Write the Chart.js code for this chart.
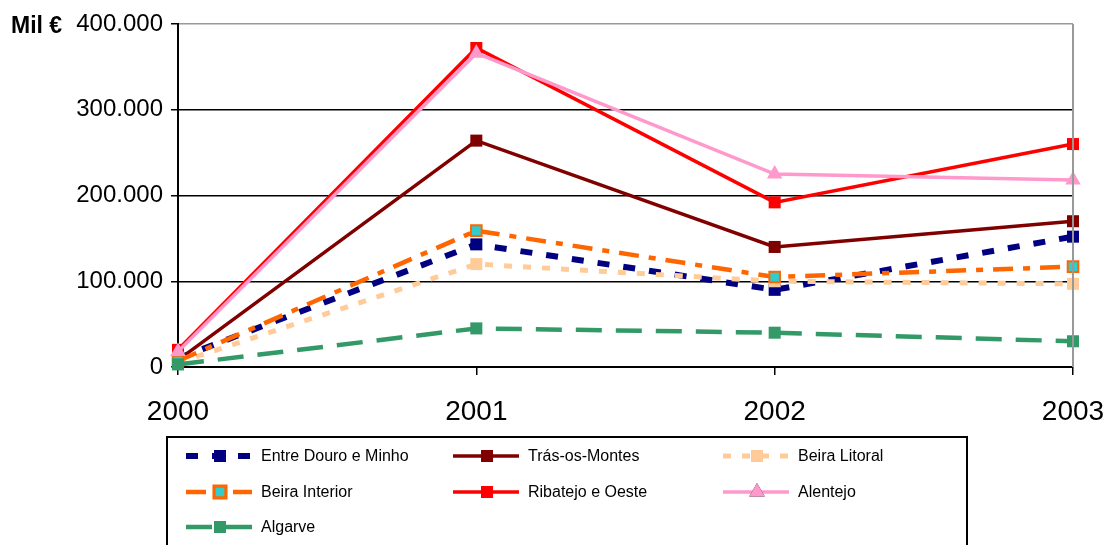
<!DOCTYPE html>
<html>
<head>
<meta charset="utf-8">
<script src="https://cdn.jsdelivr.net/npm/chart.js"></script>
<style>
  body { margin: 0; background: #fff; }
</style>
</head>
<body>
<canvas id="myChart" width="1105" height="545"></canvas>
<script>
// values in thousand euro (Mil €)
let years = ["2000", "2001", "2002", "2003"];
let entreDouroMinho = [10000, 143000, 90000, 152000];
let trasOsMontes = [8000, 264000, 140000, 170000];
let beiraLitoral = [5000, 120000, 100000, 97000];
let beiraInterior = [7000, 159000, 105000, 117000];
let ribatejoOeste = [20000, 372000, 192000, 260000];
let alentejo = [18000, 366000, 225000, 218000];
let algarve = [3000, 45000, 40000, 30000];

let yTicks = [0, 100000, 200000, 300000, 400000];

function makeSet(label, data, color, width, dash, pointStyle, radius, pointFill) {
    return {
        label: label,
        data: data,
        borderColor: color,
        backgroundColor: pointFill || color,
        pointBackgroundColor: pointFill || color,
        pointBorderColor: color,
        pointBorderWidth: pointFill ? 2 : 0,
        borderWidth: width,
        borderDash: dash,
        pointStyle: pointStyle,
        pointRadius: radius,
        tension: 0,
        clip: false
    };
}

let datasets = [
    makeSet("Entre Douro e Minho", entreDouroMinho, "#000080", 6, [12, 14], "rect", 8.5),
    makeSet("Trás-os-Montes", trasOsMontes, "#800000", 3.5, [], "rect", 8.5),
    makeSet("Beira Litoral", beiraLitoral, "#FFCC99", 5, [8, 11], "rect", 8.5),
    makeSet("Beira Interior", beiraInterior, "#FF6600", 4.5, [20, 10, 7, 10], "rect", 7.5, "#33CCCC"),
    makeSet("Ribatejo e Oeste", ribatejoOeste, "#FF0000", 3.5, [], "rect", 8.5),
    makeSet("Alentejo", alentejo, "#FF99CC", 3.5, [], "triangle", 9),
    makeSet("Algarve", algarve, "#339966", 4.5, [26, 14], "rect", 8.5)
];
// later series on top, like the original
datasets.forEach(function (d, i) { d.order = -i; });

function fmt(v) {
    return String(v).replace(/\B(?=(\d{3})+(?!\d))/g, ".");
}

let extras = {
    id: "extras",
    afterDatasetsDraw: function (chart) {
        let ctx = chart.ctx;
        let area = chart.chartArea;
        ctx.save();
        // right border of plot
        ctx.strokeStyle = "#999";
        ctx.lineWidth = 2;
        ctx.beginPath();
        ctx.moveTo(area.right, area.top);
        ctx.lineTo(area.right, area.bottom);
        ctx.stroke();

        // unit label
        ctx.fillStyle = "#000";
        ctx.font = "bold 23px 'Liberation Sans', Arial, sans-serif";
        ctx.textAlign = "left";
        ctx.textBaseline = "alphabetic";
        ctx.fillText("Mil €", 11, 33);

        // legend box
        ctx.strokeStyle = "#000";
        ctx.lineWidth = 2;
        ctx.strokeRect(167, 437, 800, 130);

        let colX = [186, 453, 723];
        let rowY = [456, 492, 527];
        chart.data.datasets.forEach(function (ds, i) {
            let x = colX[i % 3];
            let y = rowY[Math.floor(i / 3)];
            ctx.strokeStyle = ds.borderColor;
            ctx.lineWidth = ds.borderWidth;
            ctx.setLineDash(ds.borderDash);
            ctx.beginPath();
            ctx.moveTo(x, y);
            ctx.lineTo(x + 66, y);
            ctx.stroke();
            ctx.setLineDash([]);
            Chart.helpers.drawPoint(ctx, {
                pointStyle: ds.pointStyle,
                radius: ds.pointRadius,
                borderWidth: ds.pointBorderWidth,
                rotation: 0
            }, x + 34, y);
            ctx.fillStyle = ds.pointBackgroundColor;
            ctx.strokeStyle = ds.pointBorderColor;
            ctx.fill();
            if (ds.pointBorderWidth) {
                ctx.lineWidth = ds.pointBorderWidth;
                ctx.stroke();
            }
            ctx.fillStyle = "#000";
            ctx.font = "16px 'Liberation Sans', Arial, sans-serif";
            ctx.textBaseline = "middle";
            ctx.fillText(ds.label, x + 75, y + 1);
        });
        ctx.restore();
    }
};

let chart = new Chart("myChart", {
    type: "line",
    data: {
        labels: years,
        datasets: datasets
    },
    plugins: [extras],
    options: {
        responsive: false,
        animation: false,
        layout: { padding: { left: 0, right: 32, top: 24, bottom: 118 } },
        plugins: {
            legend: { display: false },
            tooltip: { enabled: false }
        },
        scales: {
            x: {
                type: "category",
                offset: false,
                afterFit: function (scale) {
                    scale.height = 60;
                    scale.paddingLeft = 0;
                    scale.paddingRight = 0;
                },
                grid: { drawOnChartArea: false, color: "#000", tickLength: 8, lineWidth: 1.5 },
                border: { color: "#000", width: 2 },
                ticks: {
                    color: "#000",
                    padding: 20,
                    maxRotation: 0,
                    font: { family: "'Liberation Sans', Arial, sans-serif", size: 28 }
                }
            },
            y: {
                min: 0,
                max: 400000,
                afterFit: function (scale) {
                    scale.width = 178;
                    scale.paddingTop = 0;
                    scale.paddingBottom = 0;
                },
                afterBuildTicks: function (scale) {
                    scale.ticks = yTicks.map(function (v) { return { value: v }; });
                },
                grid: {
                    color: function (c) { return c.tick && c.tick.value === 400000 ? "#999" : "#000"; },
                    tickColor: "#000",
                    tickLength: 7,
                    lineWidth: 1.5
                },
                border: { color: "#000", width: 2 },
                ticks: {
                    color: "#000",
                    padding: 8,
                    callback: function (v) { return fmt(v); },
                    font: { family: "'Liberation Sans', Arial, sans-serif", size: 24 }
                }
            }
        }
    }
});
</script>
</body>
</html>
